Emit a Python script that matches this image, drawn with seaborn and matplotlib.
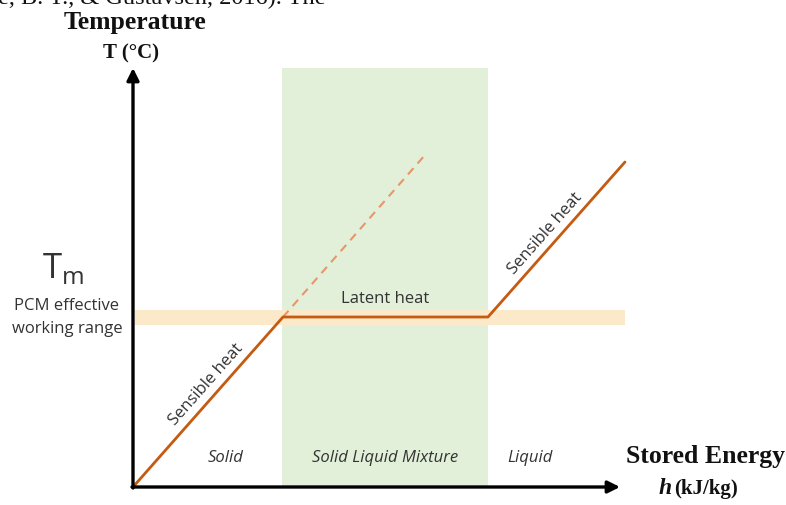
import matplotlib.pyplot as plt
import numpy as np
import pandas as pd
import seaborn as sns

# schematic units: h (stored energy) and T (temperature), origin at the axes corner
h_curve = [0, 150, 355, 492]
T_curve = [0, 170, 170, 325]
h_dashed = [150, 292]
T_dashed = [170, 332]
h_mixture = [149, 355]       # solid-liquid mixture zone
T_band = [162, 177]          # PCM effective working range
h_band = [2, 492]
h_axis_end = 487
T_axis_end = 419

phase_labels = ["Solid", "Solid Liquid Mixture", "Liquid"]
phase_h = [93, 252, 397]

sns.set_theme(style="white")
ui_font = ["Open Sans", "DejaVu Sans"]
serif_font = ["Liberation Serif", "DejaVu Serif"]
ui_size = 12
gray = "#333333"

fig = plt.figure(figsize=(7.86, 5.05), dpi=100)
ax = fig.add_axes([0, 0, 1, 1])
ax.set_xlim(-133, 653)
ax.set_ylim(-18, 487)
ax.axis("off")

# shaded regions
ax.fill_between(h_mixture, 0, T_axis_end, color="#E2F0D9", lw=0, zorder=1)
ax.fill_between(h_band, T_band[0], T_band[1], color="#FCE9C9", lw=0, zorder=2)

# heating curve
curve = pd.DataFrame({"h": h_curve, "T": T_curve})
sns.lineplot(data=curve, x="h", y="T", ax=ax, color="#C55A11", lw=2.0,
             sort=False, zorder=4)
ax.plot(h_dashed, T_dashed, color="#E9956A", lw=1.5, ls=(0, (4, 3)), zorder=3)

# axes arrows
arrow = dict(arrowstyle="-|>", color="black", lw=2.4, mutation_scale=18,
             shrinkA=0, shrinkB=0)
ax.annotate("", xy=(0, T_axis_end), xytext=(0, -1), arrowprops=arrow, zorder=5)
ax.annotate("", xy=(h_axis_end, 0), xytext=(-1, 0), arrowprops=arrow, zorder=5)

# curve labels
ax.text(73, 102, "Sensible heat", rotation=48.5, ha="center", va="center",
        fontsize=ui_size, family=ui_font, color=gray, rotation_mode="anchor")
ax.text(252, 188, "Latent heat", ha="center", va="center",
        fontsize=ui_size, family=ui_font, color=gray)
ax.text(412, 253, "Sensible heat", rotation=48.5, ha="center", va="center",
        fontsize=ui_size, family=ui_font, color=gray, rotation_mode="anchor")

for lab, x in zip(phase_labels, phase_h):
    ax.text(x, 29, lab, ha="center", va="center", fontsize=ui_size,
            style="italic", family=ui_font, color=gray)

# left annotations
ax.text(-70, 218, r"T$_{\mathregular{m}}$", ha="center", va="center",
        fontsize=25, family=ui_font, color=gray)
ax.text(-66, 181, "PCM effective", ha="center", va="center",
        fontsize=ui_size, family=ui_font, color=gray)
ax.text(-66, 158, "working range", ha="center", va="center",
        fontsize=ui_size, family=ui_font, color=gray)

# axis titles
ax.text(2, 465, "Temperature", ha="center", va="center", fontsize=18.5,
        weight="bold", family=serif_font, color="#111111")
ax.text(-2, 434, "T (°C)", ha="center", va="center", fontsize=15,
        weight="bold", family=serif_font, color="#111111")
ax.text(572, 31, "Stored Energy", ha="center", va="center", fontsize=18.5,
        weight="bold", family=serif_font, color="#111111")
ax.text(532, -2, "h", ha="center", va="center", fontsize=17,
        weight="bold", style="italic", family=serif_font, color="#111111")
ax.text(541, -2, "(kJ/kg)", ha="left", va="center", fontsize=15,
        weight="bold", family=serif_font, color="#111111")

# clipped line of the surrounding document text
ax.text(-135, 483, "e, B. T., & Gustavsen, 2016). The", ha="left",
        va="baseline", fontsize=17.5, family=serif_font, color="#111111")

fig.savefig("out.png", dpi=100)
